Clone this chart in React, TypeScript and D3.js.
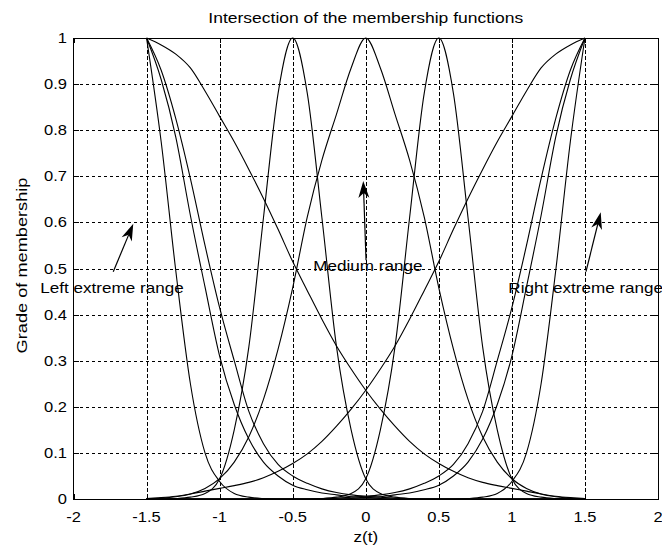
import React from "react";
import * as d3 from "d3";

// Sample points of z(t) at which every membership function is tabulated
const zSamples = [
  -1.5, -1.4, -1.3, -1.2, -1.1, -1.0, -0.9, -0.8, -0.7, -0.6, -0.5, -0.4, -0.3, -0.2, -0.1, 0,
  0.1, 0.2, 0.3, 0.4, 0.5, 0.6, 0.7, 0.8, 0.9, 1.0, 1.1, 1.2, 1.3, 1.4, 1.5,
];

// Left extreme range functions (peak at z = -1.5)
const leftWide = [
  1, 0.985, 0.965, 0.935, 0.885, 0.83, 0.775, 0.715, 0.652, 0.585, 0.515, 0.452, 0.39, 0.332, 0.282, 0.236,
  0.195, 0.158, 0.125, 0.098, 0.077, 0.06, 0.046, 0.036, 0.029, 0.023, 0.017, 0.011, 0.006, 0.003, 0.001,
];
const leftSoft = [
  1, 0.93, 0.825, 0.695, 0.55, 0.415, 0.3, 0.19, 0.12, 0.075, 0.05, 0.034, 0.022, 0.014, 0.009, 0.006,
  0.004, 0.002, 0.001, 0, 0, 0, 0, 0, 0, 0, 0, 0, 0, 0, 0,
];
const leftMid = [
  1, 0.91, 0.785, 0.615, 0.46, 0.31, 0.205, 0.13, 0.08, 0.05, 0.03, 0.02, 0.013, 0.009, 0.005, 0.003,
  0.001, 0, 0, 0, 0, 0, 0, 0, 0, 0, 0, 0, 0, 0, 0,
];
const leftSteep = [
  1, 0.775, 0.495, 0.25, 0.1, 0.038, 0.012, 0.004, 0.001, 0, 0, 0, 0, 0, 0, 0,
  0, 0, 0, 0, 0, 0, 0, 0, 0, 0, 0, 0, 0, 0, 0,
];

// Medium range functions (peaks at z = -0.5, 0, 0.5)
const mediumLow = [
  0, 0, 0.001, 0.004, 0.012, 0.044, 0.15, 0.33, 0.61, 0.88, 1, 0.88, 0.61, 0.33, 0.15, 0.044,
  0.012, 0.004, 0.001, 0, 0, 0, 0, 0, 0, 0, 0, 0, 0, 0, 0,
];
const mediumCentre = [
  0.001, 0.002, 0.005, 0.011, 0.023, 0.044, 0.08, 0.135, 0.216, 0.325, 0.458, 0.612, 0.735, 0.835, 0.935, 1,
  0.935, 0.835, 0.735, 0.612, 0.458, 0.325, 0.216, 0.135, 0.08, 0.044, 0.023, 0.011, 0.005, 0.002, 0.001,
];
const mediumHigh = [
  0, 0, 0, 0, 0, 0, 0, 0, 0, 0, 0, 0, 0.001, 0.004, 0.012, 0.044,
  0.15, 0.33, 0.61, 0.88, 1, 0.88, 0.61, 0.33, 0.15, 0.044, 0.012, 0.004, 0.001, 0, 0,
];

// Right extreme range functions (peak at z = 1.5)
const rightSteep = [
  0, 0, 0, 0, 0, 0, 0, 0, 0, 0, 0, 0, 0, 0, 0, 0,
  0, 0, 0, 0, 0, 0, 0.001, 0.004, 0.012, 0.038, 0.1, 0.25, 0.495, 0.775, 1,
];
const rightMid = [
  0, 0, 0, 0, 0, 0, 0, 0, 0, 0, 0, 0, 0, 0, 0.001, 0.003,
  0.005, 0.009, 0.013, 0.02, 0.03, 0.05, 0.08, 0.13, 0.205, 0.31, 0.46, 0.615, 0.785, 0.91, 1,
];
const rightSoft = [
  0, 0, 0, 0, 0, 0, 0, 0, 0, 0, 0, 0, 0.001, 0.002, 0.004, 0.006,
  0.009, 0.014, 0.022, 0.034, 0.05, 0.075, 0.12, 0.19, 0.3, 0.415, 0.55, 0.695, 0.825, 0.93, 1,
];
const rightWide = [
  0.001, 0.003, 0.006, 0.011, 0.017, 0.023, 0.029, 0.036, 0.046, 0.06, 0.077, 0.098, 0.125, 0.158, 0.195, 0.236,
  0.282, 0.332, 0.39, 0.452, 0.515, 0.585, 0.652, 0.715, 0.775, 0.83, 0.885, 0.935, 0.965, 0.985, 1,
];

const memberships = [
  leftWide, leftSoft, leftMid, leftSteep,
  mediumLow, mediumCentre, mediumHigh,
  rightSteep, rightMid, rightSoft, rightWide,
];

const xTicks = [-2, -1.5, -1, -0.5, 0, 0.5, 1, 1.5, 2];
const xTickLabels = ["-2", "-1.5", "-1", "-0.5", "0", "0.5", "1", "1.5", "2"];
const yTicks = [0, 0.1, 0.2, 0.3, 0.4, 0.5, 0.6, 0.7, 0.8, 0.9, 1];
const yTickLabels = ["0", "0.1", "0.2", "0.3", "0.4", "0.5", "0.6", "0.7", "0.8", "0.9", "1"];

const titleText = "Intersection of the membership functions";
const xLabelText = "z(t)";
const yLabelText = "Grade of membership";
const rangeLabels = ["Left extreme range", "Medium range", "Right extreme range"];

const W = 662;
const H = 550;
const FONT = "'Liberation Sans', Arial, Helvetica, sans-serif";

function Arrow({ x1, y1, x2, y2 }: { x1: number; y1: number; x2: number; y2: number }) {
  const dx = x2 - x1;
  const dy = y2 - y1;
  const len = Math.hypot(dx, dy);
  const ux = dx / len;
  const uy = dy / len;
  const px = -uy;
  const py = ux;
  const headLen = 17;
  const half = 5.5;
  const notch = 5;
  const bx = x2 - ux * headLen;
  const by = y2 - uy * headLen;
  const pts = [
    [x2, y2],
    [bx + px * half, by + py * half],
    [x2 - ux * (headLen - notch), y2 - uy * (headLen - notch)],
    [bx - px * half, by - py * half],
  ];
  return (
    <g>
      <line x1={x1} y1={y1} x2={x2 - ux * (headLen - notch)} y2={y2 - uy * (headLen - notch)} stroke="#000" strokeWidth={1.2} />
      <polygon points={pts.map((p) => p.join(",")).join(" ")} fill="#000" />
    </g>
  );
}

function StretchText({
  x, y, anchor, size, stretch = 1.22, rotate = 0, children,
}: {
  x: number; y: number; anchor: string; size: number; stretch?: number; rotate?: number; children: React.ReactNode;
}) {
  return (
    <text
      transform={`translate(${x},${y})${rotate ? ` rotate(${rotate})` : ""} scale(${stretch},1)`}
      textAnchor={anchor}
      fontSize={size}
      fontFamily={FONT}
      fill="#000"
    >
      {children}
    </text>
  );
}

export default function App() {
  const left = 73.5;
  const right = 658;
  const top = 38;
  const bottom = 499;

  const x = d3.scaleLinear().domain([-2, 2]).range([left, right]);
  const y = d3.scaleLinear().domain([0, 1]).range([bottom, top]);

  const line = d3
    .line<number>()
    .x((_, i) => x(zSamples[i]))
    .y((d) => y(d))
    .curve(d3.curveMonotoneX);

  const arrows = [
    { from: [-1.728, 0.493], to: [-1.591, 0.597] },
    { from: [0.002, 0.518], to: [-0.017, 0.69] },
    { from: [1.507, 0.493], to: [1.608, 0.622] },
  ];
  const labelAnchors = [
    [-2.227, 0.447],
    [-0.359, 0.495],
    [0.976, 0.446],
  ];

  return (
    <svg
      width={W}
      height={H}
      style={{ position: "absolute", left: 0, top: 0, background: "#fff" }}
    >
      <rect x={0} y={0} width={W} height={H} fill="#fff" />

      {/* grid */}
      <g stroke="#000" strokeWidth={1} strokeDasharray="3.5,2.5" shapeRendering="crispEdges">
        {xTicks.slice(1, -1).map((t) => (
          <line key={`gx${t}`} x1={Math.round(x(t)) + 0.5} x2={Math.round(x(t)) + 0.5} y1={top} y2={bottom} />
        ))}
        {yTicks.slice(1, -1).map((t) => (
          <line key={`gy${t}`} x1={left} x2={right} y1={Math.round(y(t)) + 0.5} y2={Math.round(y(t)) + 0.5} />
        ))}
      </g>

      {/* ticks on all four sides */}
      <g stroke="#000" strokeWidth={1} shapeRendering="crispEdges">
        {xTicks.map((t) => (
          <g key={`tx${t}`}>
            <line x1={Math.round(x(t)) + 0.5} x2={Math.round(x(t)) + 0.5} y1={bottom} y2={bottom - 5} />
            <line x1={Math.round(x(t)) + 0.5} x2={Math.round(x(t)) + 0.5} y1={top} y2={top + 5} />
          </g>
        ))}
        {yTicks.map((t) => (
          <g key={`ty${t}`}>
            <line x1={left} x2={left + 5} y1={Math.round(y(t)) + 0.5} y2={Math.round(y(t)) + 0.5} />
            <line x1={right} x2={right - 5} y1={Math.round(y(t)) + 0.5} y2={Math.round(y(t)) + 0.5} />
          </g>
        ))}
      </g>

      {/* membership functions */}
      <g fill="none" stroke="#000" strokeWidth={1.1}>
        {memberships.map((s, i) => (
          <path key={i} d={line(s) || ""} />
        ))}
      </g>

      {/* axes box */}
      <rect x={left} y={top} width={right - left} height={bottom - top} fill="none" stroke="#000" strokeWidth={1} shapeRendering="crispEdges" />

      {/* tick labels */}
      {xTicks.map((t, i) => (
        <StretchText key={`lx${t}`} x={x(t)} y={521.5} anchor="middle" size={14} stretch={1.18}>
          {xTickLabels[i]}
        </StretchText>
      ))}
      {yTicks.map((t, i) => (
        <StretchText key={`ly${t}`} x={67} y={y(t) + 5} anchor="end" size={14} stretch={1.18}>
          {yTickLabels[i]}
        </StretchText>
      ))}

      {/* title and axis labels */}
      <StretchText x={x(0)} y={23} anchor="middle" size={14} stretch={1.25}>
        {titleText}
      </StretchText>
      <StretchText x={x(0)} y={542} anchor="middle" size={14}>
        {xLabelText}
      </StretchText>
      <StretchText x={27} y={y(0.5) - 3} anchor="middle" size={14} stretch={1.3} rotate={-90}>
        {yLabelText}
      </StretchText>

      {/* range annotations */}
      {arrows.map((a, i) => (
        <Arrow key={`a${i}`} x1={x(a.from[0])} y1={y(a.from[1])} x2={x(a.to[0])} y2={y(a.to[1])} />
      ))}
      {rangeLabels.map((txt, i) => (
        <StretchText key={`r${i}`} x={x(labelAnchors[i][0])} y={y(labelAnchors[i][1])} anchor="start" size={14}>
          {txt}
        </StretchText>
      ))}
    </svg>
  );
}
